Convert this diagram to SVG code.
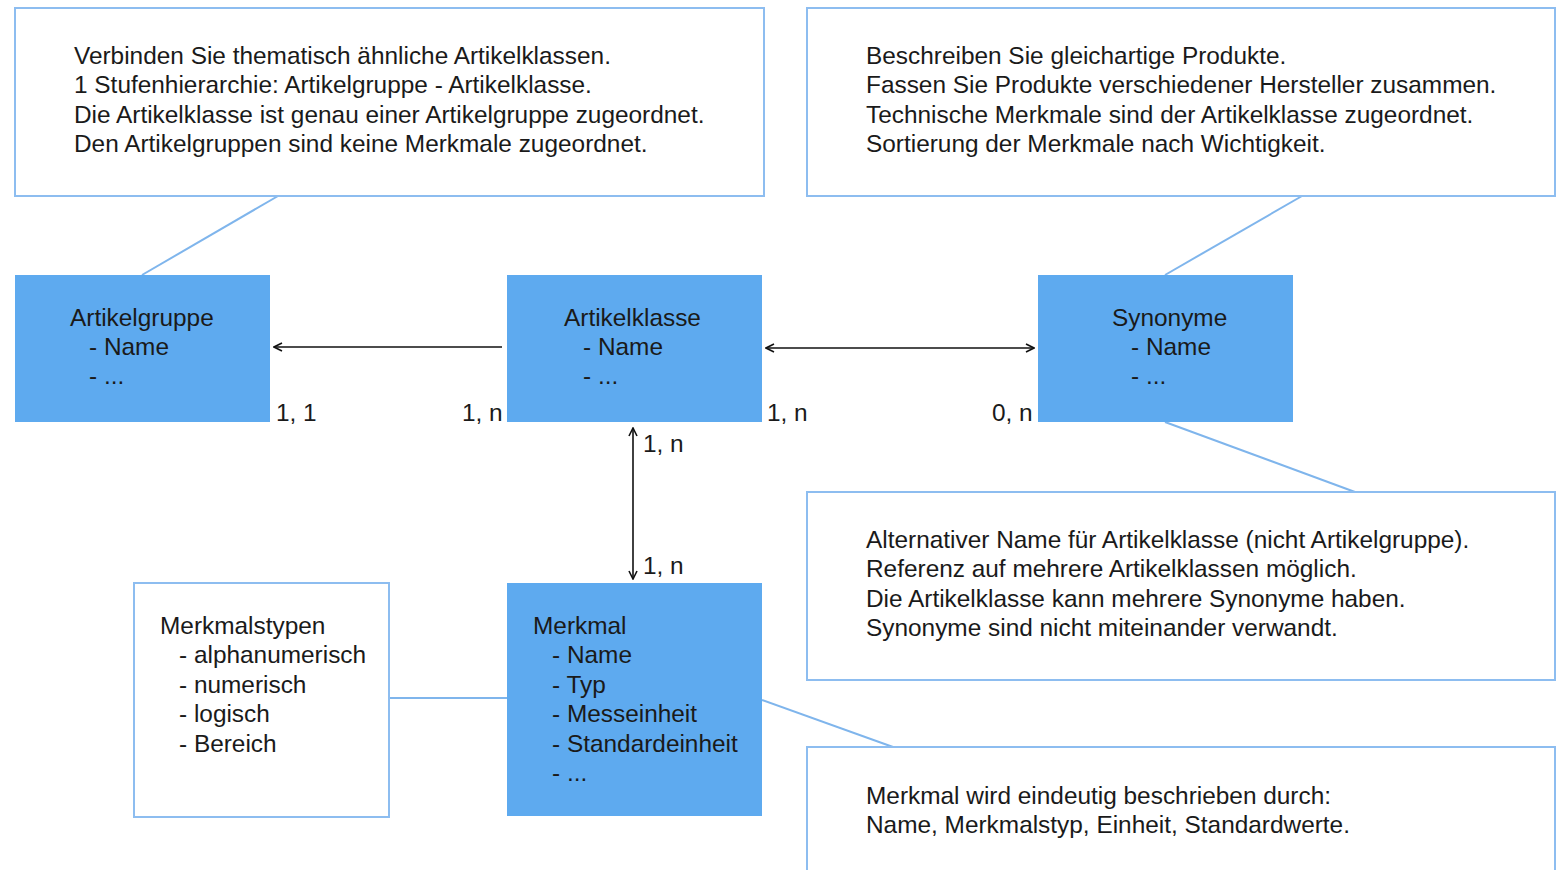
<svg xmlns="http://www.w3.org/2000/svg" width="1562" height="870" viewBox="0 0 1562 870">
<style>
.note{fill:#fff;stroke:#8dbdf0;stroke-width:2}
.ent{fill:#5eaaef}
.t{font-family:"Liberation Sans",Arial,sans-serif;font-size:24.4px;fill:#1a1a1a}
.lk{stroke:#7fb5ec;stroke-width:2;fill:none}
.ar{stroke:#111;stroke-width:1.6;fill:none}
</style>
<defs>
<marker id="ah" viewBox="0 0 10 10" refX="9" refY="5" markerWidth="10" markerHeight="10" orient="auto-start-reverse" markerUnits="userSpaceOnUse">
<path d="M1,1 L9,5 L1,9" fill="none" stroke="#111" stroke-width="1.6"/>
</marker>
</defs>
<rect width="1562" height="870" fill="#fff"/>
<g id="connectors">
<line class="lk" x1="278" y1="196" x2="142" y2="275"/>
<line class="lk" x1="1302" y1="196" x2="1165" y2="275"/>
<line class="lk" x1="1165" y1="422" x2="1355" y2="492"/>
<line class="lk" x1="762" y1="700" x2="893" y2="747"/>
<line class="lk" x1="389" y1="698" x2="507" y2="698"/>
<line class="ar" x1="502" y1="347" x2="274" y2="347" marker-end="url(#ah)"/>
<line class="ar" x1="766" y1="348" x2="1034" y2="348" marker-start="url(#ah)" marker-end="url(#ah)"/>
<line class="ar" x1="633" y1="428" x2="633" y2="579" marker-start="url(#ah)" marker-end="url(#ah)"/>
<text class="t" x="276" y="421">1, 1</text>
<text class="t" x="462" y="421">1, n</text>
<text class="t" x="767" y="421">1, n</text>
<text class="t" x="992" y="421">0, n</text>
<text class="t" x="643" y="452">1, n</text>
<text class="t" x="643" y="574">1, n</text>
</g>
<g id="note-artikelgruppe">
<rect class="note" x="15" y="8" width="749" height="188"/>
<text class="t" x="74" y="64">Verbinden Sie thematisch ähnliche Artikelklassen.</text>
<text class="t" x="74" y="93">1 Stufenhierarchie: Artikelgruppe - Artikelklasse.</text>
<text class="t" x="74" y="123">Die Artikelklasse ist genau einer Artikelgruppe zugeordnet.</text>
<text class="t" x="74" y="152">Den Artikelgruppen sind keine Merkmale zugeordnet.</text>
</g>
<g id="note-artikelklasse">
<rect class="note" x="807" y="8" width="748" height="188"/>
<text class="t" x="866" y="64">Beschreiben Sie gleichartige Produkte.</text>
<text class="t" x="866" y="93">Fassen Sie Produkte verschiedener Hersteller zusammen.</text>
<text class="t" x="866" y="123">Technische Merkmale sind der Artikelklasse zugeordnet.</text>
<text class="t" x="866" y="152">Sortierung der Merkmale nach Wichtigkeit.</text>
</g>
<g id="artikelgruppe">
<rect class="ent" x="15" y="275" width="255" height="147"/>
<text class="t" x="70" y="326">Artikelgruppe</text>
<text class="t" x="89" y="355">- Name</text>
<text class="t" x="89" y="384">- ...</text>
</g>
<g id="artikelklasse">
<rect class="ent" x="507" y="275" width="255" height="147"/>
<text class="t" x="564" y="326">Artikelklasse</text>
<text class="t" x="583" y="355">- Name</text>
<text class="t" x="583" y="384">- ...</text>
</g>
<g id="synonyme">
<rect class="ent" x="1038" y="275" width="255" height="147"/>
<text class="t" x="1112" y="326">Synonyme</text>
<text class="t" x="1131" y="355">- Name</text>
<text class="t" x="1131" y="384">- ...</text>
</g>
<g id="note-synonyme">
<rect class="note" x="807" y="492" width="748" height="188"/>
<text class="t" x="866" y="548">Alternativer Name für Artikelklasse (nicht Artikelgruppe).</text>
<text class="t" x="866" y="577">Referenz auf mehrere Artikelklassen möglich.</text>
<text class="t" x="866" y="607">Die Artikelklasse kann mehrere Synonyme haben.</text>
<text class="t" x="866" y="636">Synonyme sind nicht miteinander verwandt.</text>
</g>
<g id="merkmalstypen">
<rect class="note" x="134" y="583" width="255" height="234"/>
<text class="t" x="160" y="634">Merkmalstypen</text>
<text class="t" x="179" y="663">- alphanumerisch</text>
<text class="t" x="179" y="693">- numerisch</text>
<text class="t" x="179" y="722">- logisch</text>
<text class="t" x="179" y="752">- Bereich</text>
</g>
<g id="merkmal">
<rect class="ent" x="507" y="583" width="255" height="233"/>
<text class="t" x="533" y="634">Merkmal</text>
<text class="t" x="552" y="663">- Name</text>
<text class="t" x="552" y="693">- Typ</text>
<text class="t" x="552" y="722">- Messeinheit</text>
<text class="t" x="552" y="752">- Standardeinheit</text>
<text class="t" x="552" y="781">- ...</text>
</g>
<g id="note-merkmal">
<rect class="note" x="807" y="747" width="748" height="140"/>
<text class="t" x="866" y="804">Merkmal wird eindeutig beschrieben durch:</text>
<text class="t" x="866" y="833">Name, Merkmalstyp, Einheit, Standardwerte.</text>
</g>
</svg>
